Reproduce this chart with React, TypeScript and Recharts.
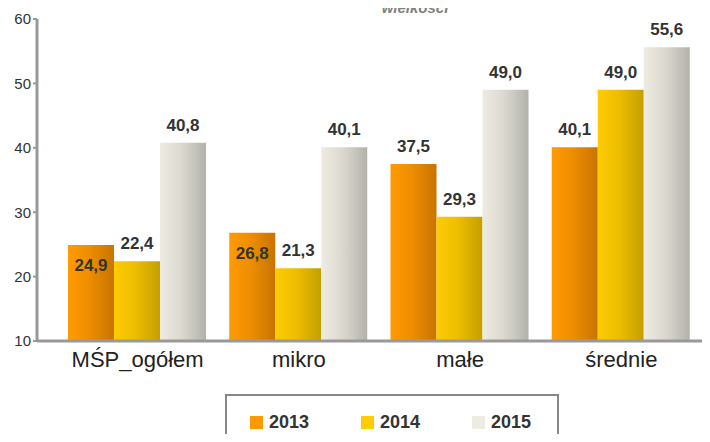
import { BarChart, Bar, XAxis, YAxis, LabelList } from 'recharts'

const categories = ['MŚP_ogółem', 'mikro', 'małe', 'średnie']
const values2013 = [24.9, 26.8, 37.5, 40.1]
const values2014 = [22.4, 21.3, 29.3, 49.0]
const values2015 = [40.8, 40.1, 49.0, 55.6]
const yTicks = [10, 20, 30, 40, 50, 60]

const data = categories.map((name, i) => ({
  name,
  y2013: values2013[i],
  y2014: values2014[i],
  y2015: values2015[i],
}))

const fmt = (v: number) => v.toFixed(1).replace('.', ',')
const font = 'Liberation Sans, Arial, sans-serif'

const series = [
  { key: 'y2013', label: '2013', grad: 'g2013', swatch: '#FF9900' },
  { key: 'y2014', label: '2014', grad: 'g2014', swatch: '#FFCC00' },
  { key: 'y2015', label: '2015', grad: 'g2015', swatch: '#EEECE1' },
]

// Excel put the first two orange labels inside the bar, the rest sit on top
const DataLabel = (props: any) => {
  const { x, y, width, value, index, inside } = props
  const cy = inside && index < 2 ? y + 26 : y - 12
  return (
    <text x={x + width / 2} y={cy} textAnchor="middle" fontSize={17} fontWeight="bold" fill="#333" fontFamily={font}>
      {fmt(value)}
    </text>
  )
}

const LegendBox = () => (
  <div
    style={{
      position: 'absolute',
      left: 225,
      top: 394,
      width: 334,
      height: 60,
      border: '2px solid #888',
      boxSizing: 'border-box',
      fontFamily: font,
      fontWeight: 'bold',
      fontSize: 18,
      color: '#333',
    }}
  >
    {series.map((s, i) => (
      <div
        key={s.key}
        style={{ position: 'absolute', left: 23 + i * 111, top: 16, display: 'flex', alignItems: 'center' }}
      >
        <span style={{ width: 13, height: 13, background: s.swatch, marginRight: 6, display: 'inline-block' }} />
        {s.label}
      </div>
    ))}
  </div>
)

export default function App() {
  return (
    <div style={{ margin: -8, width: 710, height: 442, position: 'relative', overflow: 'hidden', background: '#fff' }}>
      <BarChart
        width={710}
        height={442}
        data={data}
        margin={{ top: 19, right: 8, left: 0, bottom: 0 }}
        barGap={0}
        barCategoryGap={11}
      >
        <defs>
          <linearGradient id="g2013" x1="0" y1="0" x2="1" y2="0">
            <stop offset="0%" stopColor="#FF9A00" />
            <stop offset="45%" stopColor="#EE8E00" />
            <stop offset="100%" stopColor="#C87400" />
          </linearGradient>
          <linearGradient id="g2014" x1="0" y1="0" x2="1" y2="0">
            <stop offset="0%" stopColor="#FFCC00" />
            <stop offset="45%" stopColor="#EEBE00" />
            <stop offset="100%" stopColor="#C49F00" />
          </linearGradient>
          <linearGradient id="g2015" x1="0" y1="0" x2="1" y2="0">
            <stop offset="0%" stopColor="#EEECE1" />
            <stop offset="45%" stopColor="#DCDAD0" />
            <stop offset="100%" stopColor="#B3B2AA" />
          </linearGradient>
        </defs>
        <XAxis
          dataKey="name"
          height={101}
          padding={{ left: 20, right: 0 }}
          axisLine={{ stroke: '#999', strokeWidth: 3 }}
          tickLine={false}
          tick={{ fill: '#222', fontSize: 22, fontFamily: font }}
          tickMargin={4}
        />
        <YAxis
          width={37}
          domain={[10, 60]}
          ticks={yTicks}
          allowDataOverflow
          axisLine={{ stroke: '#999', strokeWidth: 3 }}
          tickLine={{ stroke: '#999', strokeWidth: 2 }}
          tickSize={4}
          tick={{ fill: '#333', fontSize: 15, fontFamily: font }}
        />
        {series.map((s, si) => (
          <Bar key={s.key} dataKey={s.key} name={s.label} fill={`url(#${s.grad})`} isAnimationActive={false}>
            <LabelList dataKey={s.key} content={<DataLabel inside={si === 0} />} />
          </Bar>
        ))}
      </BarChart>
      <div
        style={{
          position: 'absolute',
          top: 0,
          left: 0,
          width: 830,
          lineHeight: '16px',
          textAlign: 'center',
          fontFamily: font,
          fontStyle: 'italic',
          fontWeight: 'bold',
          fontSize: 15,
          color: '#808080',
          zIndex: 2,
        }}
      >
        wielkości
      </div>
      <LegendBox />
    </div>
  )
}
